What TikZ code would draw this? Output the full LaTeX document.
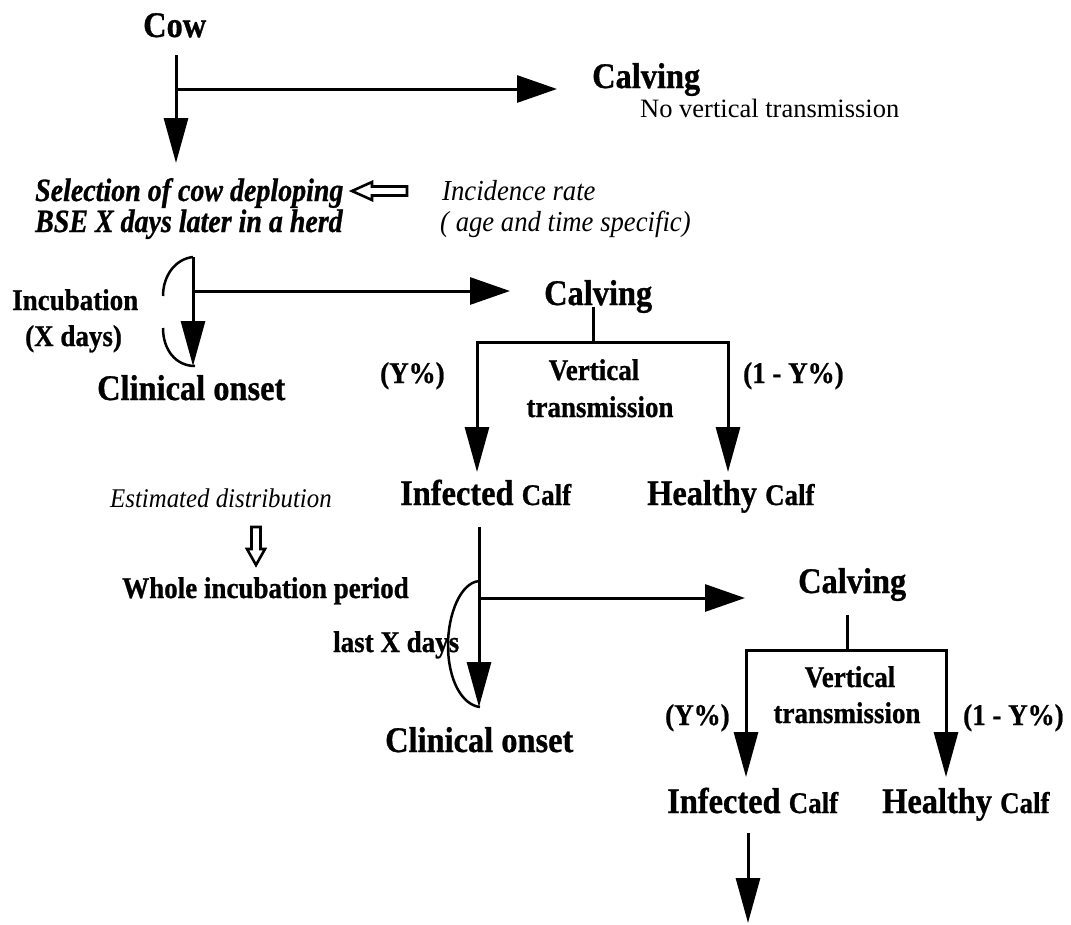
\documentclass[tikz,border=0pt]{standalone}
\usepackage{fontspec}
\setmainfont{Liberation Serif}
\newfontfamily\cnd[FakeStretch=0.9,
  BoldFeatures={FakeBold=0.8}, BoldItalicFeatures={FakeBold=0.8}]{Liberation Serif}
\newfontfamily\nrw[FakeStretch=0.86,
  BoldItalicFeatures={FakeBold=0.8}]{Liberation Serif}
\newfontfamily\slim[FakeStretch=0.92]{Liberation Serif}
\usetikzlibrary{arrows.meta}

\tikzset{
  lbl/.style={inner sep=0pt, anchor=base west},
  head/.style={lbl, font=\cnd\bfseries\fontsize{36}{36}\selectfont},
  sub/.style={lbl, font=\cnd\bfseries\fontsize{30}{30}\selectfont},
  note/.style={lbl, font=\slim\itshape\fontsize{29}{29}\selectfont},
  sel/.style={lbl, font=\nrw\bfseries\itshape\fontsize{32.5}{32.5}\selectfont},
  plain/.style={lbl, font=\fontsize{26.5}{26.5}\selectfont},
  vflow/.style={line width=3pt, line join=miter, -{Triangle[length=45pt,width=24pt]}},
  hflow/.style={line width=3pt, -{Triangle[length=40pt,width=27pt]}},
  link/.style={line width=3pt},
  span/.style={line width=2.5pt},
  hollow/.style={line width=2.6pt, line join=miter, fill=white},
}
\newcommand{\calf}{\fontsize{30}{30}\selectfont Calf}

\begin{document}
\begin{tikzpicture}[x=1pt, y=-1pt]
\useasboundingbox (0,0) rectangle (1071,924);

% ---- cow and first calving ----
\node[head] (cow) at (143,37) {Cow};
\node[head] (calv1) at (592,88) {Calving};
\node[plain] (novert) at (640,117) {No vertical transmission};

\node[sel] (sel1) at (35,201) {Selection of cow deploping};
\node[sel] (sel2) at (35,232) {BSE X days later in a herd};
\node[note] (inc1) at (442,200) {Incidence rate};
\node[note] (inc2) at (440,231) {( age and time specific)};

\coordinate (cowdrop) at (176,55);
\coordinate (cowfork) at (176,89);
\coordinate (selin) at (176,163);
\coordinate (calv1in) at (557,89);
\draw[vflow] (cowdrop) -- (selin);
\draw[hflow] (cowfork) -- (calv1in);

% hollow arrow: incidence rate feeds the selection
\draw[hollow] (352,191) -- (372,182) -- (372,186.5) -- (407,186.5)
  -- (407,195.5) -- (372,195.5) -- (372,200) -- cycle;

% ---- incubation of the cow ----
\node[sub] (incub) at (12,310) {Incubation};
\node[sub] (xdays) at (25,346) {(X days)};
\node[head] (onset1) at (97,400) {Clinical onset};
\node[head] (calv2) at (544,305) {Calving};

\coordinate (inctop) at (193,257);
\coordinate (incfork) at (193,291);
\coordinate (onset1in) at (193,366);
\coordinate (calv2in) at (510,291);
\draw[vflow] (inctop) -- (onset1in);
\draw[hflow] (incfork) -- (calv2in);
\draw[span] (inctop) .. controls (175,259) and (163,276) .. (163,296);
\draw[span] (163,328) .. controls (163,350) and (176,366) .. (195,366);

% ---- vertical transmission, first generation ----
\coordinate (c2stem) at (593,307);
\coordinate (c2fork) at (593,342);
\coordinate (inf1in) at (477,472);
\coordinate (hea1in) at (728,472);
\draw[link] (c2stem) -- (c2fork);
\draw[vflow] (c2fork) -| (inf1in);
\draw[vflow] (c2fork) -| (hea1in);

\node[sub] (y1) at (380,383) {(Y\%)};
\node[sub] (ny1) at (743,383) {(1 - Y\%)};
\node[sub, anchor=base] (vt1a) at (594,380) {Vertical};
\node[sub, anchor=base] (vt1b) at (600,417) {transmission};

\node[head] (inf1) at (400,505) {Infected \calf};
\node[head] (hea1) at (647,505) {Healthy \calf};

% ---- incubation of the infected calf ----
\node[lbl, font=\slim\itshape\fontsize{27}{27}\selectfont] (est) at (110,507) {Estimated distribution};
\node[sub] (whole) at (122,598) {Whole incubation period};
\draw[hollow] (256,565) -- (247,549) -- (251.5,549) -- (251.5,527)
  -- (260.5,527) -- (260.5,549) -- (265,549) -- cycle;

\node[sub] (lastx) at (333,652) {last X days};
\node[head] (onset2) at (385,752) {Clinical onset};
\node[head] (calv3) at (798,593) {Calving};

\coordinate (inf1out) at (479,527);
\coordinate (arctop) at (479,581);
\coordinate (inf1fork) at (479,598);
\coordinate (onset2in) at (479,707);
\coordinate (calv3in) at (745,598);
\draw[vflow] (inf1out) -- (onset2in);
\draw[hflow] (inf1fork) -- (calv3in);
\draw[span] (arctop) .. controls (460,583) and (448,615) .. (448,645)
  .. controls (448,680) and (462,705) .. (480,707);

% ---- vertical transmission, second generation ----
\coordinate (c3stem) at (847,615);
\coordinate (c3fork) at (847,650);
\coordinate (inf2in) at (746,777);
\coordinate (hea2in) at (946,777);
\draw[link] (c3stem) -- (c3fork);
\draw[vflow] (c3fork) -| (inf2in);
\draw[vflow] (c3fork) -| (hea2in);

\node[sub] (y2) at (665,725) {(Y\%)};
\node[sub] (ny2) at (963,725) {(1 - Y\%)};
\node[sub, anchor=base] (vt2a) at (850,687) {Vertical};
\node[sub, anchor=base] (vt2b) at (847,723) {transmission};

\node[head] (inf2) at (667,813) {Infected \calf};
\node[head] (hea2) at (882,813) {Healthy \calf};

\coordinate (inf2out) at (748,833);
\coordinate (next) at (748,923);
\draw[vflow] (inf2out) -- (next);
\end{tikzpicture}
\end{document}
